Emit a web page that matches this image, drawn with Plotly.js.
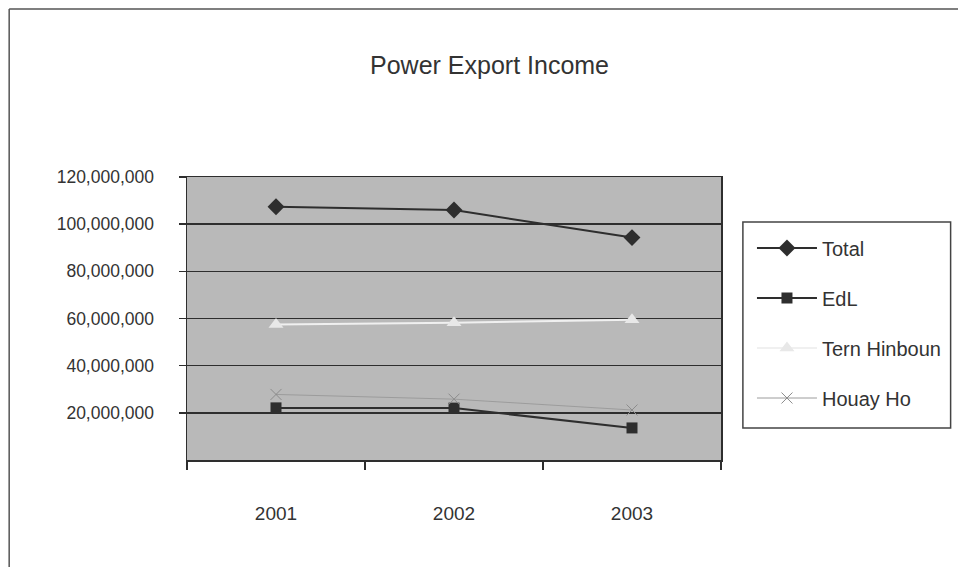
<!DOCTYPE html>
<html>
<head>
<meta charset="utf-8">
<script src="https://cdn.plot.ly/plotly-3.0.1.min.js"></script>
<style>
html,body{margin:0;padding:0;background:#fff;}
#chart{width:958px;height:569px;}
</style>
</head>
<body>
<div id="chart"></div>
<script>
const years = ["2001", "2002", "2003"];
const total = [107400000, 106000000, 94300000];
const edl = [22100000, 22000000, 13600000];
const ternHinboun = [57500000, 58200000, 59500000];
const houayHo = [27800000, 25800000, 21200000];
const yTickVals = [20000000, 40000000, 60000000, 80000000, 100000000, 120000000];
const yTickText = ["20,000,000", "40,000,000", "60,000,000", "80,000,000", "100,000,000", "120,000,000"];

const dark = "#2e2e2e";
const traces = [
  {x: years, y: total, name: "Total", type: "scatter", mode: "lines+markers", legendgroup: "a",
   line: {color: dark, width: 2}, marker: {symbol: "diamond", size: 13, color: dark}},
  {x: years, y: edl, name: "EdL", type: "scatter", mode: "lines+markers", legendgroup: "b",
   line: {color: dark, width: 2}, marker: {symbol: "square", size: 11, color: dark}},
  {x: years, y: ternHinboun, name: "Tern Hinboun", type: "scatter", mode: "lines+markers", legendgroup: "c",
   line: {color: "#f0f0f0", width: 2}, marker: {symbol: "triangle-up", size: 13, color: "#e8e8e8"}},
  {x: years, y: houayHo, name: "Houay Ho", type: "scatter", mode: "lines+markers", legendgroup: "d",
   line: {color: "#9c9c9c", width: 1}, marker: {symbol: "x-thin-open", size: 11, color: "#8c8c8c", line: {width: 1, color: "#8c8c8c"}}}
];

const layout = {
  width: 958, height: 569,
  margin: {l: 187, r: 234, t: 177, b: 109},
  paper_bgcolor: "#ffffff",
  plot_bgcolor: "#b9b9b9",
  font: {family: "Liberation Sans, Arial, sans-serif", size: 18, color: "#333"},
  title: {text: "Power Export Income", font: {size: 25, color: "#333"},
          x: 0.511, xref: "container", y: 0.886, yref: "container", yanchor: "middle"},
  showlegend: true,
  legend: {x: 1.058, y: 0.818, xanchor: "left", yanchor: "top", bgcolor: "rgba(0,0,0,0)",
           borderwidth: 0, traceorder: "grouped", tracegroupgap: 21, itemwidth: 60,
           font: {size: 20, color: "#333"}},
  xaxis: {type: "category", range: [-0.5, 2.5], showgrid: false, zeroline: false,
          showline: true, mirror: true, linecolor: dark, linewidth: 1.5,
          ticks: "outside", tickson: "boundaries", ticklen: 8, tickcolor: dark, tickwidth: 1.5,
          ticklabelstandoff: 36, tickfont: {size: 19, color: "#333"}},
  yaxis: {range: [0, 120000000], tickvals: yTickVals, ticktext: yTickText,
          showgrid: true, gridcolor: dark, gridwidth: 1.5, zeroline: false,
          showline: true, mirror: true, linecolor: dark, linewidth: 1.5,
          ticks: "outside", ticklen: 7, tickcolor: dark, tickwidth: 1.5,
          ticklabelstandoff: 21, tickfont: {size: 17.5, color: "#333"}},
  shapes: [
    {type: "line", xref: "paper", yref: "paper", x0: -0.333, x1: 1.46, y0: 1.594, y1: 1.594,
     line: {color: "#555", width: 1.5}},
    {type: "line", xref: "paper", yref: "paper", x0: -0.333, x1: -0.333, y0: 1.594, y1: -0.378,
     line: {color: "#555", width: 1.5}},
    {type: "rect", xref: "paper", yref: "paper", x0: 1.041, x1: 1.430, y0: 0.113, y1: 0.841,
     line: {color: "#444", width: 1.5}, fillcolor: "rgba(0,0,0,0)", layer: "below"}
  ]
};

Plotly.newPlot("chart", traces, layout, {displayModeBar: false, staticPlot: true});
</script>
</body>
</html>
